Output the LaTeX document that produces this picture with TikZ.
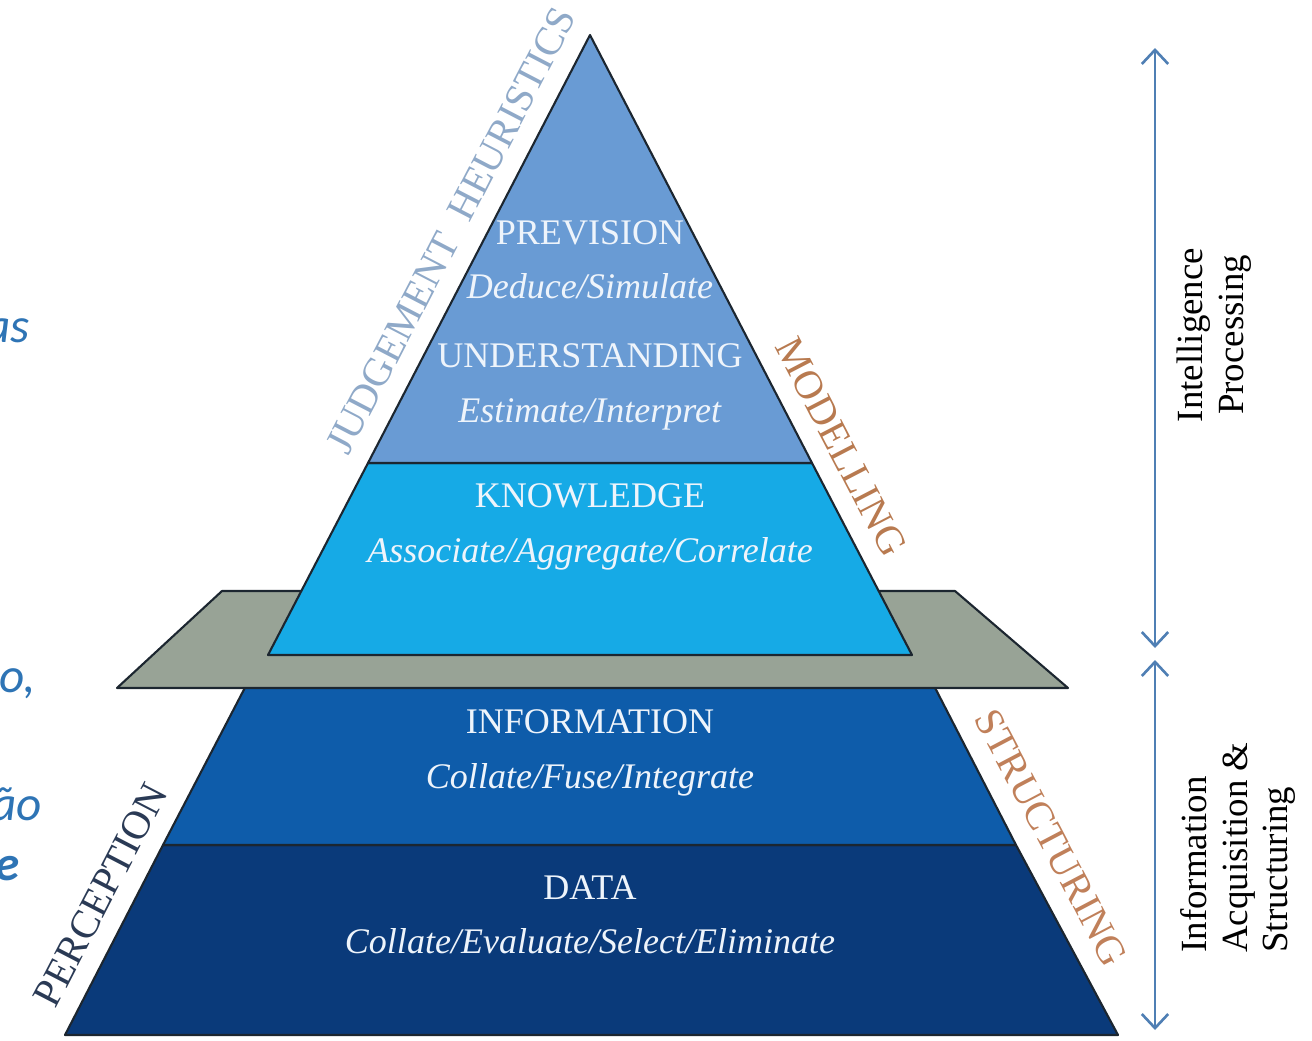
\documentclass[tikz,border=0pt]{standalone}
\usepackage{fontspec}
\setmainfont{Liberation Serif}
\newfontfamily\cutfont{Carlito}
\usepackage{tikz}
\usetikzlibrary{arrows.meta}
\usetikzlibrary{positioning}
\definecolor{upperblue}{HTML}{699BD4}
\definecolor{knowblue}{HTML}{16AAE6}
\definecolor{infoblue}{HTML}{0E5CAA}
\definecolor{datablue}{HTML}{0A3A7A}
\definecolor{planegrey}{HTML}{98A396}
\definecolor{edgecol}{HTML}{1C2630}
\definecolor{tiertext}{HTML}{EEF4FB}
\definecolor{judgecol}{HTML}{8FA9C8}
\definecolor{modelcol}{HTML}{B87A50}
\definecolor{percol}{HTML}{2A3A55}
\definecolor{structcol}{HTML}{C0805A}
\definecolor{spancol}{HTML}{4F7FB4}
\definecolor{cutblue}{HTML}{2E74B5}
\tikzset{>={Straight Barb[length=8pt,width=15pt]}, x=0.02cm, y=-0.02cm}
\tikzstyle{layer} = [draw=edgecol, line width=1.2pt, line join=round]
\tikzstyle{tier} = [text=tiertext, align=center, font=\fontsize{20.5}{31}\selectfont]
\tikzstyle{edgetext} = [sloped, above, inner sep=0pt, outer sep=11pt, font=\fontsize{23}{23}\selectfont]
\tikzstyle{span} = [draw=spancol, line width=1.5pt, <->]
\tikzstyle{axistext} = [rotate=90, inner sep=0pt, font=\fontsize{21}{23}\selectfont]
\tikzstyle{cut} = [anchor=base east, inner sep=0pt, text=cutblue, font=\cutfont\itshape\fontsize{28}{28}\selectfont]

\begin{document}
\begin{tikzpicture}
		\clip (0,0) rectangle (1312,1041);

		% corners of the two pyramid parts and the plane
		\coordinate (apex) at (590,35);
		\coordinate (ul) at (368,463);
		\coordinate (ur) at (812,463);
		\coordinate (kl) at (268,655);
		\coordinate (kr) at (912,655);
		\coordinate (il) at (250,678);
		\coordinate (ir) at (930,678);
		\coordinate (dl) at (163,845);
		\coordinate (dr) at (1016,845);
		\coordinate (bl) at (65,1035);
		\coordinate (br) at (1118,1035);
		\coordinate (gtl) at (222,591);
		\coordinate (gtr) at (955,591);
		\coordinate (gbr) at (1068,688);
		\coordinate (gbl) at (117,688);

		\filldraw [layer, fill=datablue] (dl) -- (dr) -- (br) -- (bl) -- cycle;
		\filldraw [layer, fill=infoblue] (il) -- (ir) -- (dr) -- (dl) -- cycle;
		\filldraw [layer, fill=planegrey] (gtl) -- (gtr) -- (gbr) -- (gbl) -- cycle;
		\filldraw [layer, fill=knowblue] (ul) -- (ur) -- (kr) -- (kl) -- cycle;
		\filldraw [layer, fill=upperblue] (apex) -- (ur) -- (ul) -- cycle;

		\node [tier] (prev) at (590,260) {PREVISION\\\textit{Deduce/Simulate}};
		\node [tier] (under) at (590,387) {UNDERSTANDING\\\textit{Estimate/Interpret}};
		\node [tier] (know) at (590,527) {KNOWLEDGE\\\textit{Associate/Aggregate/Correlate}};
		\node [tier] (info) at (590,753) {INFORMATION\\\textit{Collate/Fuse/Integrate}};
		\node [tier] (data) at (590,915) {DATA\\\textit{Collate/Evaluate/Select/Eliminate}};

		\path (kl) -- node [edgetext, text=judgecol, pos=0.66] (judge) {JUDGEMENT\ \ HEURISTICS} (apex);
		\path (apex) -- node [edgetext, text=modelcol, pos=0.689] (model) {MODELLING} (kr);
		\path (bl) -- node [edgetext, text=percol, pos=0.35] (perc) {PERCEPTION} (il);
		\path (ir) -- node [edgetext, text=structcol, pos=0.49] (struct) {STRUCTURING} (br);

		\coordinate (ip_top) at (1155,48);
		\coordinate (ip_bot) at (1155,648);
		\coordinate (ia_top) at (1155,660);
		\coordinate (ia_bot) at (1155,1030);
		\draw [span] (ip_top) -- (ip_bot);
		\draw [span] (ia_top) -- (ia_bot);

		\node [axistext, align=center] (proc) at (1214,335) {Intelligence\\Processing};
		\node [axistext, align=left, anchor=west] (acq) at (1238,953) {Information\\Acquisition \&\\Structuring};

		\node [cut] (cut_a) at (30,342) {as};
		\node [cut] (cut_b) at (36,692) {o,};
		\node [cut] (cut_c) at (42,820) {ão};
		\node [cut, font=\cutfont\bfseries\itshape\fontsize{28}{28}\selectfont] (cut_d) at (20,880) {e};

	\end{tikzpicture}
\end{document}
